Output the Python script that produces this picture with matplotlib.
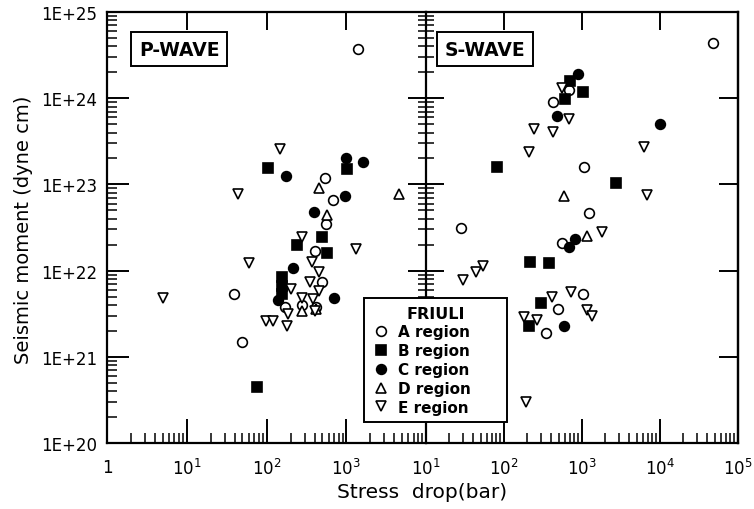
import matplotlib
matplotlib.use("Agg")
import matplotlib.pyplot as plt
from matplotlib.ticker import LogLocator, FixedLocator, FixedFormatter, NullFormatter

plt.rcParams['font.family'] = ['DejaVu Sans']

# ---- data (stress drop [bar], seismic moment [dyne cm]) ----
# P-wave panel
a_p_x = [1410, 535, 690, 550, 400, 490, 170, 39, 49, 280, 415]
a_p_y = [3.7e24, 1.18e23, 6.6e22, 3.5e22, 1.7e22, 7.4e21, 3.8e21, 5.3e21, 1.5e21, 4.0e21, 3.8e21]
b_p_x = [104, 1030, 490, 240, 580, 155, 155, 155, 76]
b_p_y = [1.55e23, 1.5e23, 2.45e22, 2.0e22, 1.6e22, 8.5e21, 6.6e21, 5.4e21, 4.45e20]
c_p_x = [178, 1000, 1630, 970, 390, 214, 710, 138]
c_p_y = [1.25e23, 2.0e23, 1.8e23, 7.4e22, 4.8e22, 1.07e22, 4.8e21, 4.5e21]
d_p_x = [450, 580, 4600, 280, 420]
d_p_y = [9.1e22, 4.4e22, 7.8e22, 3.4e21, 3.6e21]
e_p_x = [147, 44, 60, 1340, 5.0, 275, 370, 450, 355, 450, 275, 200, 380, 185, 98, 120, 180, 400]
e_p_y = [2.6e23, 7.7e22, 1.22e22, 1.8e22, 4.8e21, 2.45e22, 1.26e22, 9.6e21, 7.4e21, 5.8e21,
         4.8e21, 6.1e21, 4.7e21, 3.1e21, 2.6e21, 2.6e21, 2.3e21, 3.4e21]

# S-wave panel
a_s_x = [48000, 425, 680, 1070, 28, 1230, 550, 1030, 490, 350]
a_s_y = [4.4e24, 9.1e23, 1.24e24, 1.6e23, 3.1e22, 4.6e22, 2.1e22, 5.4e21, 3.6e21, 1.9e21]
b_s_x = [81, 700, 1020, 600, 2750, 215, 380, 295, 210]
b_s_y = [1.6e23, 1.6e24, 1.18e24, 9.8e23, 1.05e23, 1.26e22, 1.23e22, 4.2e21, 2.3e21]
c_s_x = [890, 480, 10000, 810, 680, 590]
c_s_y = [1.9e24, 6.2e23, 5.0e23, 2.3e22, 1.9e22, 2.3e21]
d_s_x = [590, 1150]
d_s_y = [7.4e22, 2.5e22]
e_s_x = [240, 425, 680, 210, 550, 6200, 6800, 1800, 30, 44, 54, 415, 720, 1150, 1350, 180, 265, 190]
e_s_y = [4.4e23, 4.1e23, 5.7e23, 2.4e23, 1.3e24, 2.7e23, 7.5e22, 2.8e22, 7.8e21, 9.6e21,
         1.13e22, 4.9e21, 5.6e21, 3.5e21, 3.0e21, 2.9e21, 2.7e21, 3.0e20]

regions = ['A region', 'B region', 'C region', 'D region', 'E region']
y_ticks = [1e20, 1e21, 1e22, 1e23, 1e24, 1e25]
y_labels = ['1E+20', '1E+21', '1E+22', '1E+23', '1E+24', '1E+25']

# marker style per region: (marker, filled)
styles = [('o', False), ('s', True), ('o', True), ('^', False), ('v', False)]

W, H = 754, 510
fig = plt.figure(figsize=(W / 100, H / 100), dpi=100)
bot, top = 1 - 444 / H, 1 - 13 / H
ax1 = fig.add_axes([107 / W, bot, 319 / W, top - bot])
ax2 = fig.add_axes([426 / W, bot, 312 / W, top - bot])


def scatter_region(ax, x, y, style, label=None):
    m, filled = style
    ms = 7.5 if m in '^v' else 7
    ax.plot(x, y, linestyle='none', marker=m, markersize=ms,
            markerfacecolor='black' if filled else 'white',
            markeredgecolor='black', markeredgewidth=1.2, label=label, clip_on=False)


p_sets = [(a_p_x, a_p_y), (b_p_x, b_p_y), (c_p_x, c_p_y), (d_p_x, d_p_y), (e_p_x, e_p_y)]
s_sets = [(a_s_x, a_s_y), (b_s_x, b_s_y), (c_s_x, c_s_y), (d_s_x, d_s_y), (e_s_x, e_s_y)]
for (x, y), st, lab in zip(p_sets, styles, regions):
    scatter_region(ax1, x, y, st, lab)
for (x, y), st in zip(s_sets, styles):
    scatter_region(ax2, x, y, st)

for ax in (ax1, ax2):
    ax.set_xscale('log')
    ax.set_yscale('log')
    ax.set_ylim(1e20, 1e25)
    for sp in ax.spines.values():
        sp.set_linewidth(1.6)
    ax.xaxis.set_minor_locator(LogLocator(base=10, subs=range(2, 10), numticks=20))
    ax.xaxis.set_minor_formatter(NullFormatter())
    ax.yaxis.set_minor_locator(LogLocator(base=10, subs=range(2, 10), numticks=20))
    ax.yaxis.set_minor_formatter(NullFormatter())
    ax.tick_params(axis='x', which='major', direction='in', length=17, width=1.4,
                   labelsize=12, pad=11, top=True)
    ax.tick_params(axis='x', which='minor', direction='in', length=7, width=1.1, top=False)

ax1.set_xlim(1, 1e4)
ax2.set_xlim(10, 1e5)

ax1.xaxis.set_major_locator(FixedLocator([1, 10, 100, 1000, 10000]))
ax1.xaxis.set_major_formatter(FixedFormatter(['1', r'$10^1$', r'$10^2$', r'$10^3$', '']))
ax2.xaxis.set_major_locator(FixedLocator([10, 100, 1000, 10000, 100000]))
ax2.xaxis.set_major_formatter(FixedFormatter([r'$10^1$', r'$10^2$', r'$10^3$', r'$10^4$', r'$10^5$']))

# y axis of the left panel
ax1.yaxis.set_major_locator(FixedLocator(y_ticks))
ax1.yaxis.set_major_formatter(FixedFormatter(y_labels))
ax1.tick_params(axis='y', which='major', direction='in', length=16, width=1.4,
                labelsize=12, pad=7, right=False)
ax1.tick_params(axis='y', which='minor', direction='in', length=7, width=1.1, right=False)
ax1.spines['right'].set_visible(False)

# shared middle spine: ticks crossing, right spine: major ticks only
ax2.yaxis.set_major_locator(FixedLocator(y_ticks))
ax2.tick_params(axis='y', which='major', direction='inout', length=26, width=1.4,
                labelleft=False, left=True, right=False)
ax2.tick_params(axis='y', which='minor', direction='inout', length=12, width=1.1,
                left=True, right=False)
ax2r = ax2.secondary_yaxis('right')
ax2r.set_yticks(y_ticks)
ax2r.yaxis.set_minor_locator(FixedLocator([]))
ax2r.tick_params(axis='y', direction='in', length=14, width=1.4, labelright=False)
ax2r.spines['right'].set_linewidth(1.6)

# top major ticks shorter
for ax in (ax1, ax2):
    for t in ax.xaxis.get_major_ticks():
        t.tick2line.set_markersize(13)

# panel labels
box = dict(boxstyle='square,pad=0.4', facecolor='white', edgecolor='black', linewidth=1.4)
ax1.text(0.1, 0.914, 'P-WAVE', transform=ax1.transAxes, fontsize=13.5, fontweight='bold',
         va='center', ha='left', bbox=box)
ax2.text(0.06, 0.914, 'S-WAVE', transform=ax2.transAxes, fontsize=13.5, fontweight='bold',
         va='center', ha='left', bbox=box)

fig.text(24 / W, 0.55, 'Seismic moment (dyne cm)', rotation=90, fontsize=14,
         ha='center', va='center')
fig.text(422 / W, 1 - 493 / H, 'Stress  drop(bar)', fontsize=14.5,
         ha='center', va='center')

h, l = ax1.get_legend_handles_labels()
leg = fig.legend(h, l, title='FRIULI', loc='upper left',
                 bbox_to_anchor=(364 / W, 1 - 418 / H, 143 / W, 119 / H), mode='expand',
                 borderaxespad=0, frameon=True, fancybox=False, framealpha=1,
                 edgecolor='black', fontsize=11, title_fontsize=11.5,
                 handletextpad=0.5, labelspacing=0.25, handlelength=1.2,
                 borderpad=0.5)
leg.get_frame().set_linewidth(1.4)
leg.get_title().set_fontweight('bold')
for t in leg.get_texts():
    t.set_fontweight('bold')

fig.savefig('out.png', dpi=100)
